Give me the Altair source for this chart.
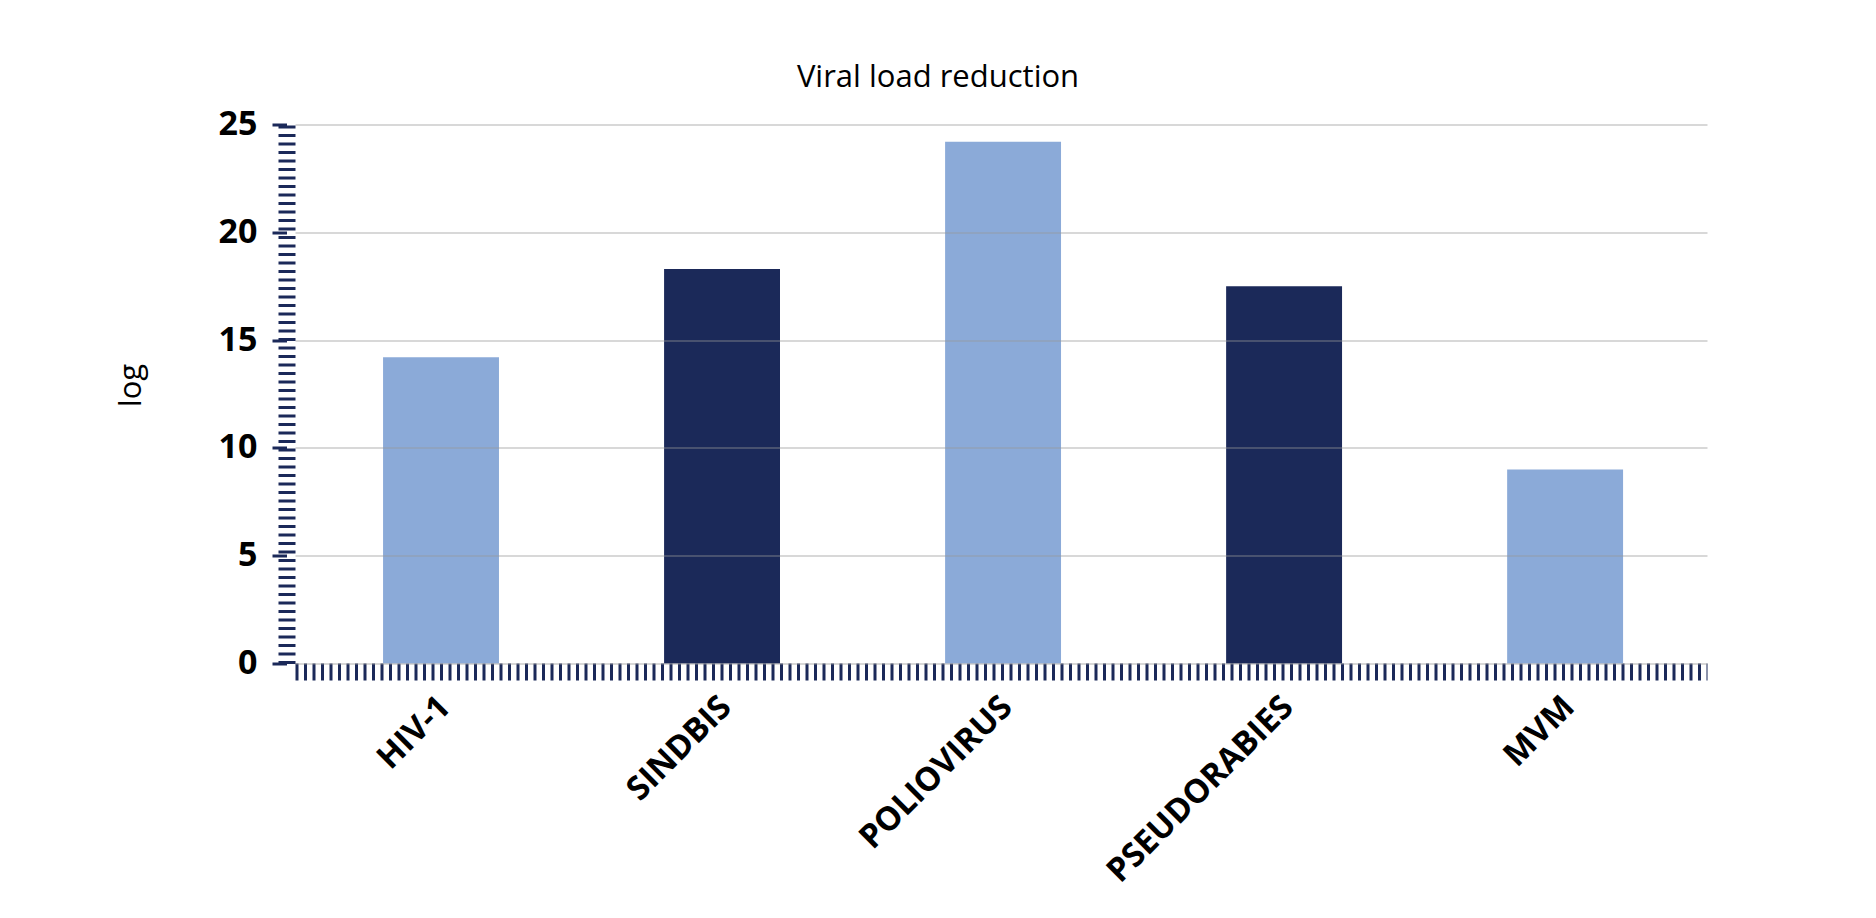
import altair as alt
import pandas as pd

viruses = ["HIV-1", "SINDBIS", "POLIOVIRUS", "PSEUDORABIES", "MVM"]
log_reduction = [14.2, 18.3, 24.2, 17.5, 9.0]
y_ticks = [0, 5, 10, 15, 20, 25]

LIGHT = "#8BAAD8"
NAVY = "#1B2959"
bar_colors = [LIGHT, NAVY, LIGHT, NAVY, LIGHT]

df = pd.DataFrame({"virus": viruses, "log": log_reduction})

chart = (
    alt.Chart(df)
    .mark_bar()
    .encode(
        x=alt.X(
            "virus:N",
            sort=viruses,
            scale=alt.Scale(paddingInner=0.5875, paddingOuter=0.306, align=0.512),
            axis=alt.Axis(
                title=None,
                labelAngle=315,
                labelAlign="right",
                labelBaseline="middle",
                labelFont="Open Sans",
                labelFontWeight="bold",
                labelFontSize=33,
                labelColor="#000000",
                labelPadding=30,
                labelOffset=4,
                labelOverlap=False,
                labelLimit=0,
                ticks=False,
                tickSize=0,
                domainColor=NAVY,
                domainWidth=17,
                domainDash=[3, 5.5],
                offset=8,
                grid=False,
            ),
        ),
        y=alt.Y(
            "log:Q",
            scale=alt.Scale(domain=[0, 25], nice=False, zero=True),
            axis=alt.Axis(
                values=y_ticks,
                title="log",
                titleFont="Open Sans",
                titleFontSize=31,
                titleFontWeight="normal",
                titleColor="#000000",
                titleAngle=270,
                titleAlign="center",
                titleBaseline="alphabetic",
                titleX=-146.5,
                titleY=260.5,
                offset=8.5,
                domainColor=NAVY,
                domainWidth=17,
                domainDash=[3, 5.5],
                tickColor=NAVY,
                tickSize=14.5,
                tickWidth=3,
                labelFont="Open Sans",
                labelFontWeight="bold",
                labelFontSize=34,
                labelColor="#000000",
                labelPadding=15,
                grid=True,
                gridColor="#999999",
                gridOpacity=0.5,
                gridWidth=1.3,
                zindex=1,
            ),
        ),
        color=alt.Color(
            "virus:N",
            scale=alt.Scale(domain=viruses, range=bar_colors),
            legend=None,
        ),
    )
    .properties(
        width=1412,
        height=539,
        padding={"left": 287, "top": 116.5, "right": 161, "bottom": 246},
        autosize=alt.AutoSizeParams(type="none"),
        title=alt.TitleParams(
            "Viral load reduction",
            font="Open Sans",
            fontSize=31,
            fontWeight="normal",
            color="#000000",
            anchor="middle",
            frame="group",
            dx=-63,
            baseline="alphabetic",
            offset=-10.5,
        ),
        background="white",
    )
    .configure_view(stroke=None)
)

chart.save("out.html", embed_options={"renderer": "svg", "actions": False})
